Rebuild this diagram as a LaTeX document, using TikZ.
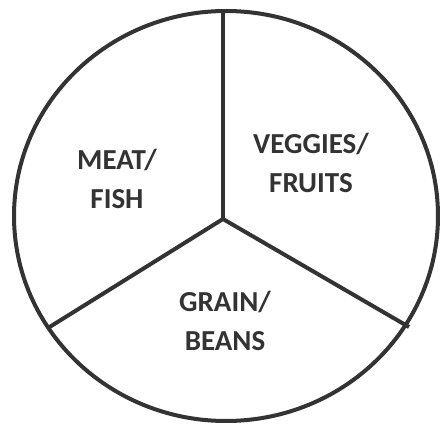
\documentclass[tikz,border=0pt]{standalone}
\usepackage{fontspec}
\setmainfont{Carlito}
\definecolor{ink}{HTML}{333333}
\begin{document}
\begin{tikzpicture}[x=1pt,y=1pt,
  divider/.style={draw=ink,line width=4pt},
  label/.style={text=ink,font=\bfseries\fontsize{29}{39}\selectfont,align=center,inner sep=0pt}]
\useasboundingbox (0,0) rectangle (440,424);
\fill[white] (0,0) rectangle (440,424);
\draw[divider] (226,208) ellipse [x radius=212, y radius=205];
\coordinate (c) at (223,205);
\coordinate (top) at (223,413);
\coordinate (left) at (48,96);
\coordinate (right) at (409,97);
\draw[divider,line join=miter] (top) -- (c);
\draw[divider] (left) -- (c) -- (right);
\node[label] (meat) at (117,245) {MEAT/\\FISH};
\node[label] (veg) at (311,261) {VEGGIES/\\FRUITS};
\node[label] (grain) at (225,103) {GRAIN/\\BEANS};
\end{tikzpicture}
\end{document}
